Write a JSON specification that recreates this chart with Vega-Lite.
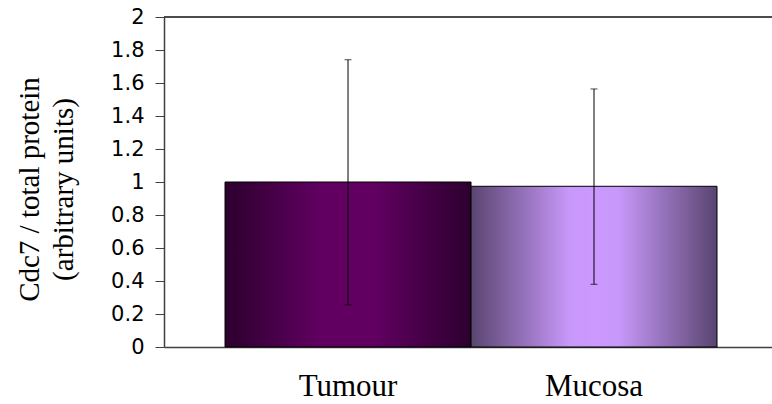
{
  "$schema": "https://vega.github.io/schema/vega-lite/v6.json",
  "width": 608,
  "height": 330,
  "autosize": {"type": "none"},
  "padding": {"left": 164, "top": 17, "right": 0, "bottom": 57},
  "background": "white",
  "config": {
    "view": {"stroke": null},
    "axisY": {
      "grid": false,
      "labelOverlap": false,
      "labelFlush": false,
      "tickSize": 9,
      "tickColor": "#404040",
      "domainColor": "#404040",
      "domainWidth": 1.5,
      "labelColor": "black",
      "labelPadding": 11,
      "titleFont": "Liberation Serif",
      "titleFontSize": 29,
      "titleFontWeight": "normal",
      "titleColor": "black"
    },
    "axisX": {
      "ticks": false,
      "tickSize": 0,
      "labelAngle": 0,
      "labelFont": "Liberation Serif",
      "labelFontSize": 31,
      "labelColor": "black",
      "labelBaseline": "alphabetic",
      "labelPadding": 48,
      "domainColor": "#404040",
      "domainWidth": 1.5,
      "grid": false
    }
  },
  "resolve": {"axis": {"x": "independent", "y": "independent"}},
  "data": {
    "values": [
      {"group": "Tumour", "value": 1.0, "lo": 0.255, "hi": 1.741},
      {"group": "Mucosa", "value": 0.974, "lo": 0.38, "hi": 1.564}
    ]
  },
  "layer": [
    {
      "transform": [{"filter": "datum.group === 'Tumour'"}],
      "mark": {
        "type": "bar",
        "stroke": "black",
        "strokeWidth": 1,
        "color": {
          "gradient": "linear",
          "stops": [
            {"offset": 0, "color": "#2c002e"},
            {"offset": 0.4, "color": "#620062"},
            {"offset": 0.6, "color": "#620062"},
            {"offset": 1, "color": "#2c002e"}
          ]
        }
      },
      "encoding": {
        "x": {
          "field": "group",
          "type": "nominal",
          "sort": ["Tumour", "Mucosa"],
          "scale": {"type": "band", "domain": ["Tumour", "Mucosa"], "paddingInner": 0, "paddingOuter": 0.2358, "align": 0.526},
          "axis": {"title": null}
        },
        "y": {
          "field": "value",
          "type": "quantitative",
          "scale": {"domain": [0, 2], "nice": false, "zero": true},
          "axis": {
            "values": [0, 0.2, 0.4, 0.6, 0.8, 1, 1.2, 1.4, 1.6, 1.8, 2],
            "format": "~g",
            "labelOverlap": false,
            "labelFont": "DejaVu Sans",
            "labelFontSize": 21,
            "title": ["Cdc7 / total protein", "(arbitrary units)"],
            "titleAngle": -90,
            "titleAlign": "center",
            "titleBaseline": "alphabetic",
            "titleLineHeight": 34,
            "titleX": -126,
            "titleY": 172
          }
        }
      }
    },
    {
      "transform": [{"filter": "datum.group === 'Mucosa'"}],
      "mark": {
        "type": "bar",
        "stroke": "black",
        "strokeWidth": 1,
        "color": {
          "gradient": "linear",
          "stops": [
            {"offset": 0, "color": "#594570"},
            {"offset": 0.4, "color": "#c898fa"},
            {"offset": 0.5, "color": "#cc99ff"},
            {"offset": 0.6, "color": "#c898fa"},
            {"offset": 1, "color": "#594570"}
          ]
        }
      },
      "encoding": {
        "x": {"field": "group", "type": "nominal", "axis": null},
        "y": {"field": "value", "type": "quantitative", "axis": null}
      }
    },
    {
      "mark": {"type": "rule", "color": "black", "strokeWidth": 1},
      "encoding": {
        "x": {"field": "group", "type": "nominal", "axis": null},
        "y": {"field": "lo", "type": "quantitative", "axis": null},
        "y2": {"field": "hi"}
      }
    },
    {
      "mark": {"type": "tick", "color": "black", "size": 7, "thickness": 1, "orient": "horizontal"},
      "encoding": {
        "x": {"field": "group", "type": "nominal", "axis": null},
        "y": {"field": "hi", "type": "quantitative", "axis": null}
      }
    },
    {
      "mark": {"type": "tick", "color": "black", "size": 7, "thickness": 1, "orient": "horizontal"},
      "encoding": {
        "x": {"field": "group", "type": "nominal", "axis": null},
        "y": {"field": "lo", "type": "quantitative", "axis": null}
      }
    },
    {
      "mark": {"type": "rule", "color": "#404040", "strokeWidth": 1.5},
      "encoding": {"y": {"datum": 2, "type": "quantitative", "axis": null}}
    }
  ]
}
